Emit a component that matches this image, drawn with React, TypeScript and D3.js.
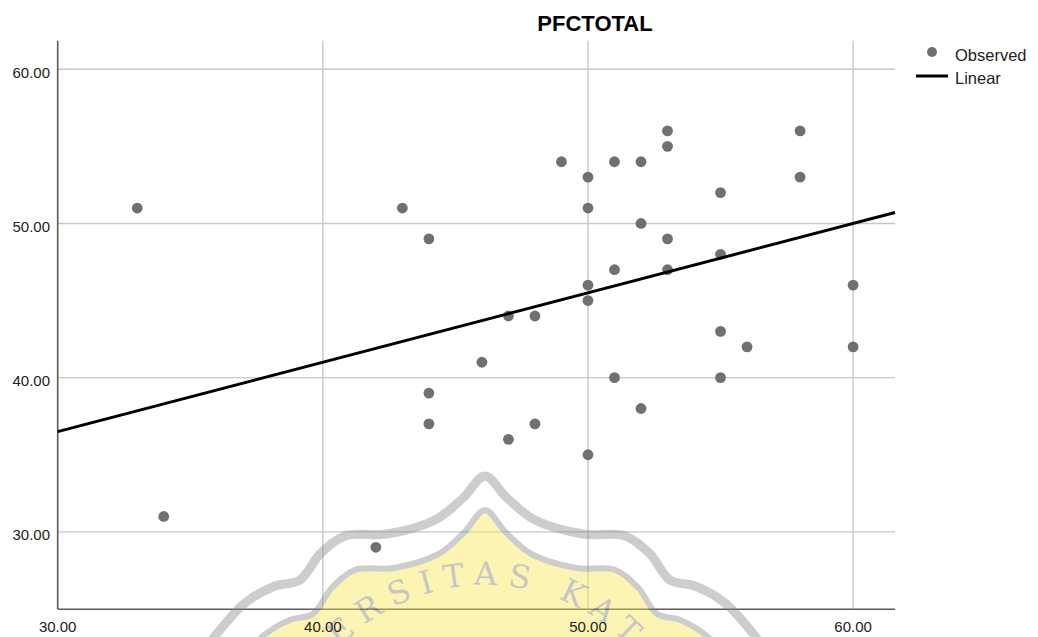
import React from "react";
import * as d3 from "d3";

const obsX = [33, 34, 42, 43, 44, 44, 44, 46, 47, 47, 48, 48, 49, 50, 50, 50, 50, 50, 51, 51, 51, 52, 52, 52, 53, 53, 53, 53, 55, 55, 55, 55, 56, 58, 58, 60, 60];
const obsY = [51, 31, 29, 51, 49, 39, 37, 41, 44, 36, 44, 37, 54, 53, 51, 46, 45, 35, 54, 47, 40, 54, 50, 38, 56, 55, 49, 47, 52, 48, 43, 40, 42, 56, 53, 46, 42];
const xTicks = [30, 40, 50, 60];
const yTicks = [30, 40, 50, 60];
const xDomain = [30, 61.58];
const yDomain = [24.98, 61.85];
const linearIntercept = 23.0;
const linearSlope = 0.45;
const title = "PFCTOTAL";
const legendLabels = ["Observed", "Linear"];

const W = 1038;
const H = 637;
const left = 57.7;
const right = 895;
const top = 40.7;
const bottom = 609.3;
const FONT = "Arial, 'Liberation Sans', sans-serif";

export default function App() {
  const x = d3.scaleLinear().domain(xDomain).range([left, right]);
  const y = d3.scaleLinear().domain(yDomain).range([bottom, top]);
  const lineXs = [xDomain[0], xDomain[1]];
  const linePath = d3.line<number>()
    .x((v) => x(v))
    .y((v) => y(linearIntercept + linearSlope * v))(lineXs) as string;

  // watermark (decorative emblem)
  const cx = 485;
  const half: [number, number][] = [
    [0, 0], [22, 22], [50, 44], [98, 58], [140, 60], [165, 78], [185, 104], [210, 110], [240, 127], [270, 160], [300, 200],
  ];
  const dome = (dy: number, sx: number) => {
    const pts: [number, number][] = [];
    for (let i = half.length - 1; i >= 0; i--) pts.push([cx - half[i][0] * sx, 476 + dy + half[i][1]]);
    for (let i = 1; i < half.length; i++) pts.push([cx + half[i][0] * sx, 476 + dy + half[i][1]]);
    return d3.line().curve(d3.curveCatmullRom.alpha(0.5))(pts) as string;
  };
  const arcR = 200;
  const arcCy = 785;
  const arcPath = `M ${cx - arcR} ${arcCy} A ${arcR} ${arcR} 0 0 1 ${cx + arcR} ${arcCy}`;

  return (
    <svg width={W} height={H} style={{ position: "absolute", left: 0, top: 0, background: "#fff" }} fontFamily={FONT}>
      <rect x={0} y={0} width={W} height={H} fill="#fff" />
      <text x={595} y={31} textAnchor="middle" fontSize={22} fontWeight="bold" fill="#000">{title}</text>
      {/* grid */}
      {yTicks.map((t) => (
        <line key={"gy" + t} x1={left} x2={right} y1={y(t)} y2={y(t)} stroke="#c8c8c8" strokeWidth={1.4} />
      ))}
      {xTicks.filter((t) => t !== 30).map((t) => (
        <line key={"gx" + t} x1={x(t)} x2={x(t)} y1={top} y2={bottom} stroke="#c8c8c8" strokeWidth={1.4} />
      ))}
      {/* axes */}
      <line x1={left} x2={left} y1={top} y2={bottom} stroke="#5a5a5a" strokeWidth={1.6} />
      <line x1={left} x2={right} y1={bottom} y2={bottom} stroke="#5a5a5a" strokeWidth={1.6} />
      {/* watermark */}
      <g opacity={0.42} pointerEvents="none">
        <path d={dome(0, 1)} fill="none" stroke="#8a8a8a" strokeWidth={9} />
        <path d={dome(34, 0.93) + ` L ${cx + 300} ${H + 50} L ${cx - 300} ${H + 50} Z`} fill="#f8e64a" stroke="#8a8a8a" strokeWidth={6} />
        <defs>
          <path id="wmArc" d={arcPath} />
        </defs>
        <text fontSize={32} fill="#7a7a7a" letterSpacing={10} fontFamily="'DejaVu Serif', serif">
          <textPath href="#wmArc" startOffset="50%" textAnchor="middle">UNIVERSITAS KATOLIK</textPath>
        </text>
      </g>
      {yTicks.map((t) => (
        <text key={"ly" + t} x={50} y={y(t) + 8.5} textAnchor="end" fontSize={15} fill="#222">{t.toFixed(2)}</text>
      ))}
      {xTicks.map((t) => (
        <text key={"lx" + t} x={x(t)} y={632} textAnchor="middle" fontSize={15} fill="#222">{t.toFixed(2)}</text>
      ))}
      {/* points */}
      {obsX.map((v, i) => (
        <circle key={"p" + i} cx={x(v)} cy={y(obsY[i])} r={5.4} fill="#707070" />
      ))}
      <path d={linePath} stroke="#000" strokeWidth={3} fill="none" />
      {/* legend */}
      <circle cx={932} cy={52} r={5} fill="#707070" />
      <text x={955} y={61} fontSize={16.5} fill="#222">{legendLabels[0]}</text>
      <line x1={916} x2={948} y1={76} y2={76} stroke="#000" strokeWidth={3} />
      <text x={955} y={84} fontSize={16.5} fill="#222">{legendLabels[1]}</text>
    </svg>
  );
}
